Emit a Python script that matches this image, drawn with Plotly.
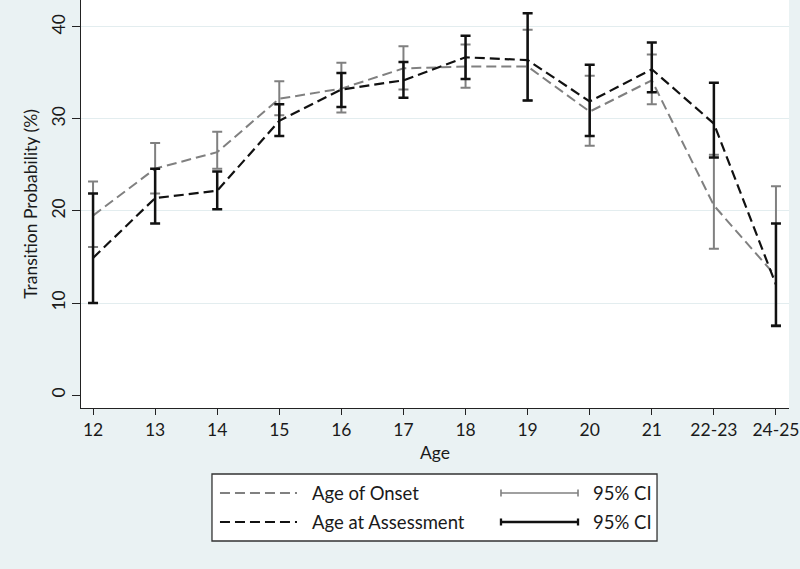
import plotly.graph_objects as go

ages = ["12", "13", "14", "15", "16", "17", "18", "19", "20", "21", "22-23", "24-25"]

onset = [19.5, 24.6, 26.4, 32.2, 33.3, 35.5, 35.7, 35.7, 30.8, 34.2, 20.6, 12.9]
onset_hi = [23.2, 27.4, 28.6, 34.1, 36.1, 37.9, 38.1, 39.7, 34.7, 37.0, 26.1, 22.7]
onset_lo = [16.1, 21.9, 24.6, 30.4, 30.7, 33.2, 33.4, 32.0, 27.1, 31.6, 15.9, 7.6]

assess = [14.9, 21.4, 22.2, 29.8, 33.2, 34.2, 36.7, 36.4, 31.9, 35.4, 29.5, 12.0]
assess_hi = [21.9, 24.6, 24.3, 31.6, 35.0, 36.2, 39.05, 41.5, 35.9, 38.3, 33.95, 18.65]
assess_lo = [10.0, 18.65, 20.2, 28.15, 31.3, 32.3, 34.35, 32.0, 28.15, 32.9, 25.8, 7.5]

y_ticks = [0, 10, 20, 30, 40]

GRAY = "#808080"
BLACK = "#111111"
BG = "#EAF2F3"
FONT = "Lato"
FS = 17.5

fig = go.Figure()


def add_series(vals, hi, lo, color, lw, ew, name):
    fig.add_trace(go.Scatter(
        x=ages, y=vals, mode="lines", name=name,
        line=dict(color=color, width=lw, dash="10px,5px"),
        error_y=dict(type="data", symmetric=False,
                     array=[h - v for h, v in zip(hi, vals)],
                     arrayminus=[v - l for v, l in zip(vals, lo)],
                     color=color, thickness=ew, width=5),
        showlegend=False,
    ))


add_series(onset, onset_hi, onset_lo, GRAY, 2, 2, "Age of Onset")
add_series(assess, assess_hi, assess_lo, BLACK, 2.2, 2.5, "Age at Assessment")

# invisible trace on overlay axis for gridlines without the zero line
fig.add_trace(go.Scatter(x=ages, y=[None] * len(ages), yaxis="y2",
                         showlegend=False, hoverinfo="skip"))

fig.update_layout(
    width=800, height=569,
    paper_bgcolor=BG, plot_bgcolor="white",
    margin=dict(l=81, r=11, t=0, b=161),
    font=dict(family=FONT, size=FS, color="#1a1a1a"),
    showlegend=False,
    xaxis=dict(
        type="category", range=[-0.194, 11.21], automargin=False,
        showline=True, linecolor="#222", linewidth=1.3,
        ticks="outside", ticklen=6, tickcolor="#222", tickwidth=1.3,
        showgrid=False, zeroline=False,
        title=dict(text="Age", standoff=7, font=dict(size=FS)),
    ),
    yaxis=dict(
        range=[-1.41, 42.93], tickvals=y_ticks, automargin=False,
        showline=True, linecolor="#222", linewidth=1.3,
        ticks="outside", ticklen=8, tickcolor="#222", tickwidth=1.3,
        tickangle=-90,
        showgrid=False, zeroline=False,
        title=dict(text="Transition Probability (%)", standoff=5, font=dict(size=FS)),
    ),
    yaxis2=dict(
        overlaying="y", range=[-1.41, 42.93], tickvals=[10, 20, 30, 40],
        showticklabels=False, showgrid=True, gridcolor="#E3EDEF", gridwidth=1.3,
        zeroline=False, showline=False, ticks="", automargin=False,
    ),
)

# manual legend (paper coordinates)
shapes = [dict(type="rect", xref="paper", yref="paper", x0=0.185, x1=0.8136,
               y0=-0.326, y1=-0.1618, fillcolor="white",
               line=dict(color="#333", width=1.3), layer="above")]
rows = [(-0.2083, GRAY, 2, 1.6, "Age of Onset"), (-0.2794, BLACK, 2.2, 2.3, "Age at Assessment")]
ann = []
cap = 0.0086
for yy, col, lw, ew, label in rows:
    shapes.append(dict(type="line", xref="paper", yref="paper", x0=0.1963, x1=0.3051,
                       y0=yy, y1=yy, line=dict(color=col, width=lw, dash="10px,5px")))
    shapes.append(dict(type="line", xref="paper", yref="paper", x0=0.5932, x1=0.7020,
                       y0=yy, y1=yy, line=dict(color=col, width=ew)))
    for xx in (0.5932, 0.7020):
        shapes.append(dict(type="line", xref="paper", yref="paper", x0=xx, x1=xx,
                           y0=yy - cap, y1=yy + cap, line=dict(color=col, width=ew)))
    ann.append(dict(xref="paper", yref="paper", x=0.3234, y=yy, text=label,
                    showarrow=False, xanchor="left", yanchor="middle",
                    font=dict(family=FONT, size=18.5, color="#1a1a1a")))
    ann.append(dict(xref="paper", yref="paper", x=0.7203, y=yy, text="95% CI",
                    showarrow=False, xanchor="left", yanchor="middle",
                    font=dict(family=FONT, size=18.5, color="#1a1a1a")))

fig.update_layout(shapes=shapes, annotations=ann)

fig.write_html(
    "out.html",
    config={"displayModeBar": False},
    post_script="document.body.style.margin='0';document.body.style.overflow='hidden';",
)
